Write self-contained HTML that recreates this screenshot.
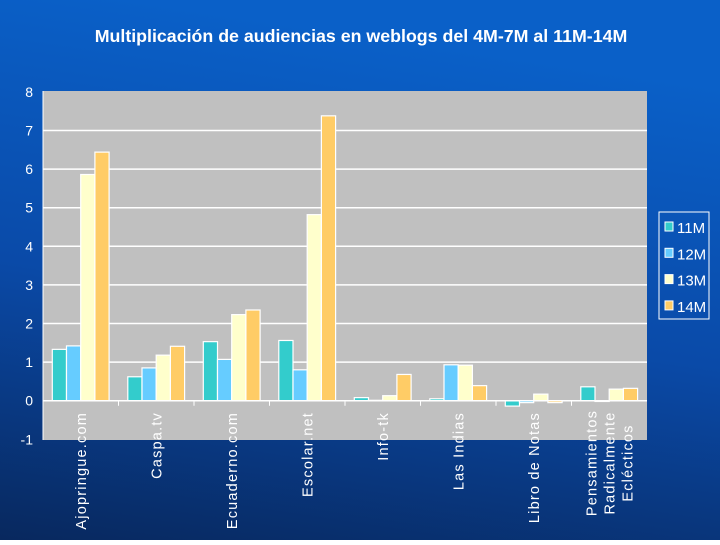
<!DOCTYPE html>
<html><head><meta charset="utf-8"><style>
body{margin:0;width:720px;height:540px;overflow:hidden;font-family:"Liberation Sans",sans-serif;}
</style></head><body>
<svg id="c" width="720" height="540">
<defs>
<linearGradient id="bg" x1="0.2" y1="0" x2="0" y2="1">
<stop offset="0" stop-color="#0a60c8"/><stop offset="0.5" stop-color="#0a4aa8"/><stop offset="1" stop-color="#08285e"/>
</linearGradient>
</defs>
<rect width="720" height="540" fill="url(#bg)"/>
<text x="361" y="42" fill="#fff" font-size="17.8" font-weight="bold" text-anchor="middle">Multiplicación de audiencias en weblogs del 4M-7M al 11M-14M</text>
<rect x="43" y="91" width="604" height="349" fill="#c0c0c0"/>
<g id="grid"></g><g id="bars"></g><g id="axes"></g>
<g>
<rect x="659" y="212" width="50" height="107" fill="none" stroke="#fff" stroke-width="1"/>
<g id="leg"></g>
</g>
</svg>
<script>
const categories=["Ajopringue.com","Caspa.tv","Ecuaderno.com","Escolar.net","Info-tk","Las Indias","Libro de Notas","Pensamientos|Radicalmente|Eclécticos"];
const series=["11M","12M","13M","14M"];
const colors=["#33cccc","#66ccff","#ffffcc","#ffcc66"];
const s11=[1.33,0.62,1.53,1.56,0.08,0.05,-0.14,0.36];
const s12=[1.42,0.85,1.07,0.80,0.01,0.93,-0.05,-0.02];
const s13=[5.86,1.18,2.23,4.82,0.13,0.92,0.17,0.30];
const s14=[6.44,1.41,2.35,7.38,0.68,0.39,-0.05,0.32];
const yTicks=[-1,0,1,2,3,4,5,6,7,8];
const data=[s11,s12,s13,s14];
const NS="http://www.w3.org/2000/svg";
const X0=43,CW=75.5,Y0=400.7,U=38.6,BW=14.2;
const y=v=>Y0-v*U;
const x=i=>X0+i*CW;
function mk(t,a,p){const e=document.createElementNS(NS,t);for(const k in a)e.setAttribute(k,a[k]);p.appendChild(e);return e;}
const grid=document.getElementById('grid'),bars=document.getElementById('bars'),axes=document.getElementById('axes'),leg=document.getElementById('leg');
yTicks.forEach(t=>{
 if(t>-1&&t<8){const l=mk('line',{x1:X0,x2:X0+8*CW,y1:y(t),y2:y(t),stroke:'#fff','stroke-width':1.5},grid);
 
 }
 const tx=mk('text',{x:33,y:y(t)+5,fill:'#fff','font-size':14,'text-anchor':'end'},axes);tx.textContent=t;
 
 
});
mk('line',{x1:X0,x2:X0,y1:91,y2:440,stroke:'#fff','stroke-width':1},axes);
categories.forEach((c,i)=>{
 data.forEach((s,j)=>{
  const v=s[i];const bx=x(i)+9.3+j*BW;
  const r=mk('rect',{x:bx,y:Math.min(y(v),Y0),width:BW,height:Math.max(Math.abs(y(v)-Y0),0.5),fill:colors[j],stroke:'#fff','stroke-width':1.2},bars);
  
  
 });
 if(i>0){mk('line',{x1:x(i),x2:x(i),y1:Y0,y2:Y0+5,stroke:'#fff'},axes);}
 const lines=c.split('|');const cx=x(i)+CW/2;
 lines.forEach((ln,k)=>{
  const lx=cx+5+(k-(lines.length-1)/2)*18;
  const multi=lines.length>1;
  const ly=multi?463:412;
  const t=mk('text',{x:lx,y:ly,fill:'#fff','font-size':14.5,'letter-spacing':1.2,'text-anchor':multi?'middle':'end',transform:`rotate(-90 ${lx} ${ly})`},axes);
  t.textContent=ln;
  
  
 });
});
mk('line',{x1:X0,x2:X0+8*CW,y1:Y0,y2:Y0,stroke:'#fff','stroke-width':1.5},axes);
series.forEach((s,j)=>{
 const yy=227+j*26.3;
 const r=mk('rect',{x:665,y:yy-5,width:8,height:9,fill:colors[j],stroke:'#fff','stroke-width':1},leg);
 
 
 const t=mk('text',{x:677,y:yy+6,fill:'#fff','font-size':15},leg);t.textContent=s;
 
 
});
</script>
</body></html>
